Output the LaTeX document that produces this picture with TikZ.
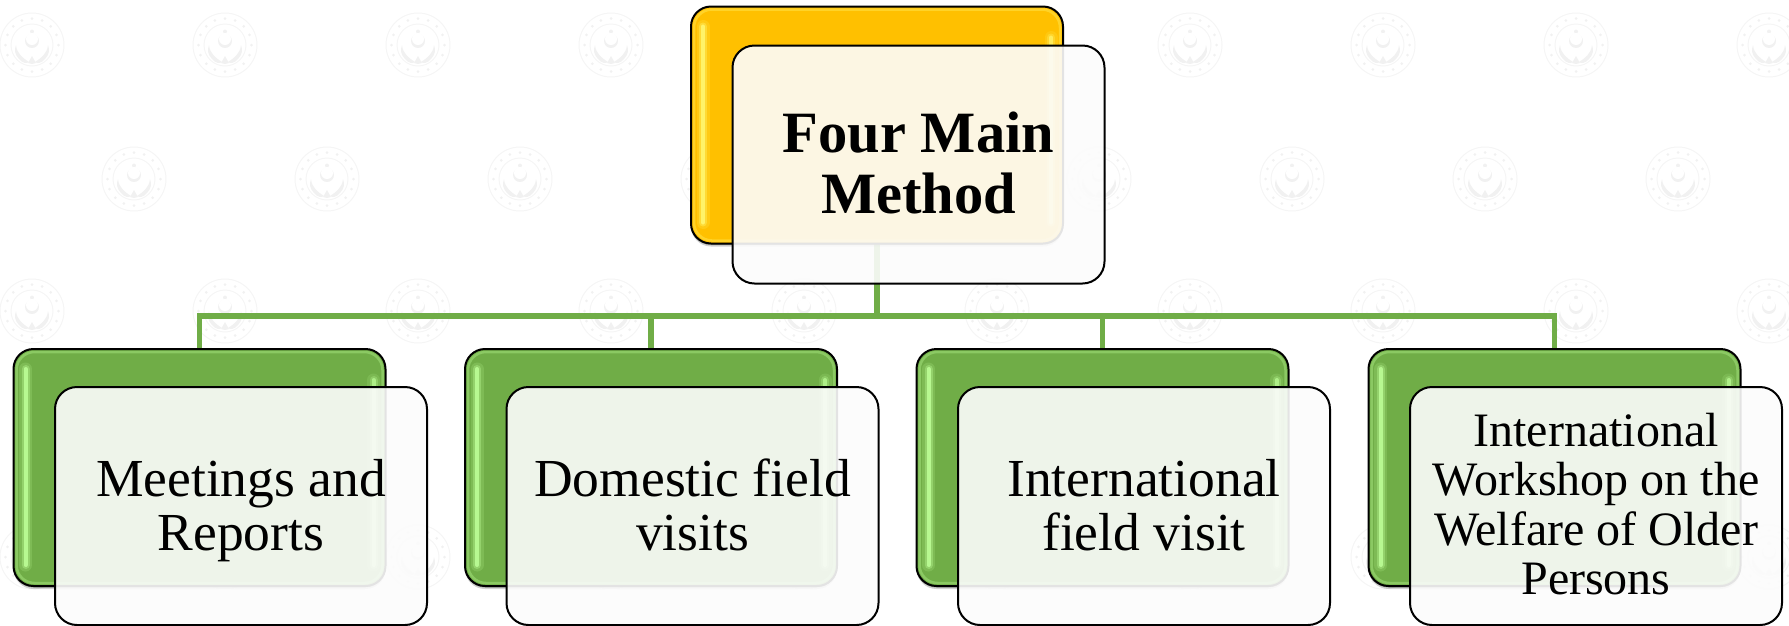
\documentclass[tikz,border=0pt]{standalone}
\usepackage{fontspec}
\setmainfont{Liberation Serif}
\usetikzlibrary{shadows,backgrounds}
\definecolor{barGreen}{HTML}{70AD47}
\definecolor{barGold}{HTML}{FFC000}
\definecolor{sealLine}{HTML}{F5F5F5}
\definecolor{sealFill}{HTML}{F1F1F1}
\definecolor{panel}{HTML}{FCFCFC}
\newcommand{\upline}{\rule[-12pt]{0pt}{59pt}}
\newcommand{\lowline}{\rule[-12pt]{0pt}{10pt}}
\tikzset{
  backbox/.style={rectangle,rounded corners=20pt,draw=black,line width=2pt,
    minimum width=372pt,minimum height=237pt,inner sep=0pt,outer sep=0pt,
    general shadow={shadow xshift=0pt,shadow yshift=-3pt,fill=black,opacity=.18},
    general shadow={shadow xshift=0pt,shadow yshift=-1.5pt,fill=black,opacity=.25}},
  frontbox/.style={rectangle,rounded corners=22pt,draw=black,line width=2pt,
    fill=panel,fill opacity=.9,text opacity=1,text=black,
    minimum width=372pt,minimum height=238pt,inner sep=0pt,outer sep=0pt,align=center},
  conn/.style={draw=barGreen,line width=5.5pt},
  bigtext/.style={font=\fontsize{53.5}{54.5}\selectfont},
  smalltext/.style={font=\fontsize{48}{49.5}\selectfont},
  toptext/.style={font=\fontsize{58.5}{61}\selectfont\bfseries},
  sealmark/.pic={
    \draw[sealLine,line width=1pt] (0,0) circle (32);
    \draw[sealLine,line width=1pt] (0,0) circle (21);
    \foreach \a in {0,22.5,...,337.5}
      \fill[sealFill] (\a:26.5) circle (1.5);
    \fill[sealFill] (0,-13.5) circle (2);
    \fill[sealFill] (0,-4) circle (7);
    \fill[white] (0,-6) circle (6);
    \fill[sealFill] (-16,0) .. controls (-15,9) and (-9,13) .. (-3,17)
      .. controls (-5,19) and (-10,18) .. (-13,14) .. controls (-17,10) and (-18,5) .. cycle;
    \fill[sealFill] (16,0) .. controls (15,9) and (9,13) .. (3,17)
      .. controls (5,19) and (10,18) .. (13,14) .. controls (17,10) and (18,5) .. cycle;
    \fill[sealFill] (0,11) -- (-4,18) -- (0,19) -- (4,18) -- cycle;
  }
}
% gloss of a back box: name, tint
\newcommand{\glossbars}[2]{%
  \draw[#2,line width=2.5pt,opacity=.35,rounded corners=18pt]
    ([shift={(3,3)}]#1.north west) rectangle ([shift={(-3,-3)}]#1.south east);
  \foreach \w/\o in {13/.18,8/.35,4/.85}{%
    \draw[#2,line width=\w pt,opacity=\o,line cap=round]
      ([shift={(12,20)}]#1.north west) -- ([shift={(12,-21)}]#1.south west);
    \draw[#2,line width=\w pt,opacity=\o*.8,line cap=round]
      ([shift={(-12,31)}]#1.north east) -- ([shift={(-12,-21)}]#1.south east);
  }%
}
\begin{document}
\begin{tikzpicture}[x=1pt,y=-1pt]
\useasboundingbox (0,0) rectangle (1789,625);
\clip (0,0) rectangle (1789,625);

\node[backbox,fill=barGold] (topback) at (877,125) {};
\node[backbox,fill=barGreen] (c1) at (199.5,467.5) {};
\node[backbox,fill=barGreen] (c2) at (651,467.5) {};
\node[backbox,fill=barGreen] (c3) at (1102.5,467.5) {};
\node[backbox,fill=barGreen] (c4) at (1554.5,467.5) {};
\coordinate (bus) at (877,316);

\begin{scope}[on background layer]
  \foreach \k in {0,...,9}{
    \pic at ({32+193*\k},45) {sealmark};
    \pic at ({32+193*\k},311) {sealmark};
    \pic at ({32+193*\k},557) {sealmark};
    \pic at ({134+193*\k},179) {sealmark};
  }
  \draw[conn] (topback.south) -- (bus);
  \draw[conn] (bus) -| (c1.north);
  \draw[conn] (bus) -| (c2.north);
  \draw[conn] (bus) -| (c3.north);
  \draw[conn] (bus) -| (c4.north);
\end{scope}

\glossbars{topback}{yellow!55!white}
\glossbars{c1}{green!30!white!85!yellow}
\glossbars{c2}{green!30!white!85!yellow}
\glossbars{c3}{green!30!white!85!yellow}
\glossbars{c4}{green!30!white!85!yellow}

\node[frontbox,toptext] (topfront) at (918.5,164.5) {Four Main\\Method\rule[-4pt]{0pt}{10pt}};
\node[frontbox,bigtext] (f1) at (241,506) {\upline Meetings and\\\lowline Reports};
\node[frontbox,bigtext] (f2) at (692.5,506) {\upline Domestic field\\\lowline visits};
\node[frontbox,bigtext] (f3) at (1144,506) {\upline International\\\lowline field visit};
\node[frontbox,smalltext] (f4) at (1596,506) {International\\Workshop on the\\Welfare of Older\\Persons\rule[-4pt]{0pt}{10pt}};
\end{tikzpicture}
\end{document}
